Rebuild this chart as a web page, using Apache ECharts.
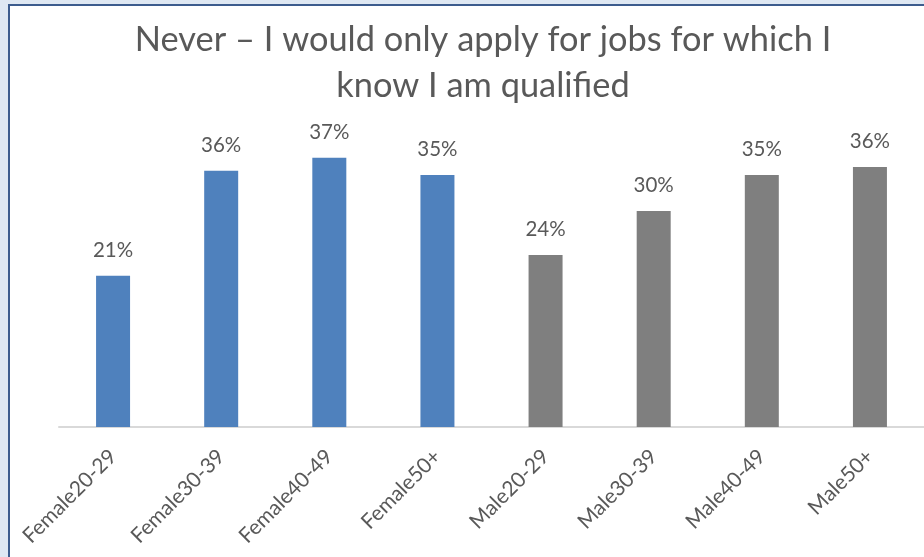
<!DOCTYPE html>
<html>
<head>
<meta charset="utf-8">
<script src="https://cdn.jsdelivr.net/npm/echarts@6/dist/echarts.min.js"></script>
<style>
  html, body { margin: 0; padding: 0; width: 924px; height: 557px; overflow: hidden; background: #dfe8f3; }
  #frame { position: absolute; left: 8px; top: 4px; width: 960px; height: 600px; background: #ffffff;
           border-left: 2px solid #3d5c8e; border-top: 2px solid #3d5c8e; }
  #chart { position: absolute; left: 0; top: 0; width: 924px; height: 557px; }
</style>
</head>
<body>
<div id="frame"></div>
<div id="chart"></div>
<script>
const titleText = 'Never \u2013 I would only apply for jobs for which I\nknow I am qualified';
const categories = ['Female20-29', 'Female30-39', 'Female40-49', 'Female50+', 'Male20-29', 'Male30-39', 'Male40-49', 'Male50+'];
const values = [21.0, 35.6, 37.4, 35.0, 23.9, 30.0, 35.0, 36.1];
const groups = ['Female', 'Female', 'Female', 'Female', 'Male', 'Male', 'Male', 'Male'];
const groupColors = { Female: '#4f81bd', Male: '#7f7f7f' };

const chart = echarts.init(document.getElementById('chart'), null, { renderer: 'canvas' });
chart.setOption({
  backgroundColor: 'transparent',
  animation: false,
  title: {
    text: titleText,
    left: 478,
    top: 12,
    textAlign: 'center',
    textStyle: { fontFamily: 'Lato', fontSize: 34.4, fontWeight: 'normal', color: '#595959', lineHeight: 46 }
  },
  grid: { left: 59, top: 139, width: 871, height: 288 },
  xAxis: {
    type: 'category',
    data: categories,
    axisLine: { lineStyle: { color: '#d9d9d9', width: 2 } },
    axisTick: { show: false },
    axisLabel: { rotate: 45, interval: 0, margin: 26, fontFamily: 'Lato', fontSize: 21, color: '#595959' }
  },
  yAxis: { type: 'value', min: 0, max: 40, show: false, splitLine: { show: false } },
  series: [{
    type: 'bar',
    barWidth: 34,
    data: values.map((v, i) => ({ value: v, itemStyle: { color: groupColors[groups[i]] } })),
    label: {
      show: true, position: 'top', distance: 15,
      formatter: p => Math.round(p.value) + '%',
      fontFamily: 'Lato', fontSize: 20.5, color: '#595959'
    }
  }]
});
</script>
</body>
</html>
